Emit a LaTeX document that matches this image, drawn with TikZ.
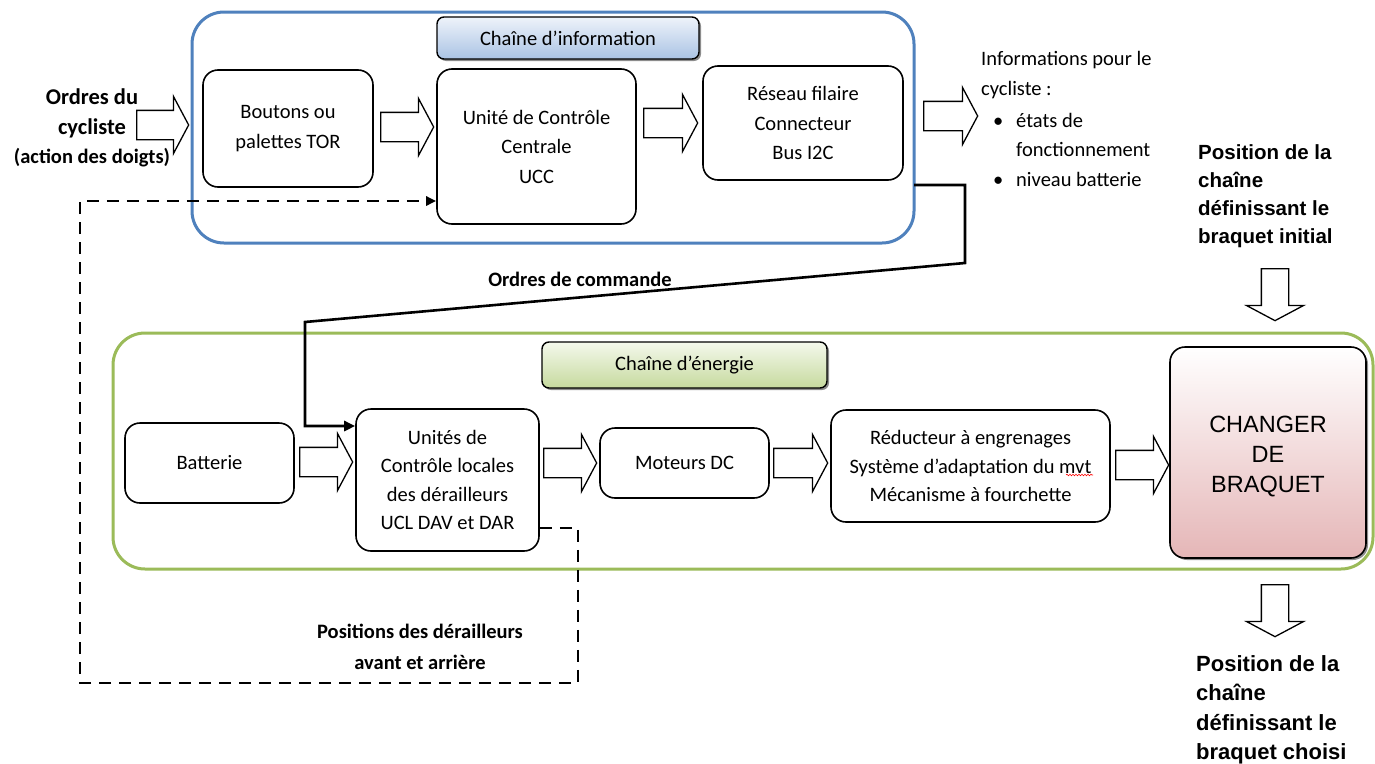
\documentclass[tikz,border=0pt]{standalone}
\usepackage{fontspec}
\setmainfont{Carlito}
\newfontfamily\arialf{Liberation Sans}
\usetikzlibrary{shapes.arrows,shadows,arrows.meta,decorations.pathmorphing}
\definecolor{bluechain}{RGB}{79,129,189}
\definecolor{greenchain}{RGB}{155,187,89}
\definecolor{titleblueA}{RGB}{238,243,250}
\definecolor{titleblueB}{RGB}{170,195,228}
\definecolor{titlegreenA}{RGB}{244,248,236}
\definecolor{titlegreenB}{RGB}{198,218,158}
\definecolor{pinkB}{RGB}{229,182,183}
\newcommand\fs{\fontsize{20.5}{29.5}\selectfont}
\newcommand\bul{\makebox[35pt][l]{\hspace*{12pt}\textbullet}}
\begin{document}
\begin{tikzpicture}[x=1pt,y=-1pt,
  box/.style={draw, line width=1.6pt, rounded corners=15pt, align=center, font=\fs, inner sep=0pt},
  chainbox/.style={draw=#1, line width=3pt, rounded corners=32pt, inner sep=0pt},
  titlebox/.style={draw, line width=1.4pt, rounded corners=7pt, align=center, font=\fs, inner sep=0pt,
    drop shadow={shadow xshift=2pt, shadow yshift=-2pt, fill=black, opacity=0.45}},
  harrow/.style={single arrow, draw, line width=1.3pt, fill=white, minimum width=56pt,
    inner xsep=0pt, inner ysep=14pt, single arrow head extend=14pt, single arrow tip angle=124, anchor=tail},
  varrow/.style={harrow, inner ysep=13pt, single arrow head extend=15pt, rotate=-90},
  cmdline/.style={line width=2.6pt, -{Triangle[length=11pt,width=10pt]}},
  fbline/.style={line width=2.8pt, dash pattern=on 12pt off 8pt, -{Triangle[length=10pt,width=9pt]}},
  lbl/.style={font=\bfseries\fs, align=center, inner sep=0pt},
  rlbl/.style={font=\arialf\bfseries, align=left, inner sep=0pt, anchor=north west}
]
\useasboundingbox (0,0) rectangle (1375,763);
\fill[white] (0,0) rectangle (1375,763);

% container boxes
\node[chainbox=bluechain, minimum width=722pt, minimum height=231pt] (infochain) at (553,127.5) {};
\node[chainbox=greenchain, minimum width=1260pt, minimum height=236pt] (energychain) at (743,451) {};

% titles
\node[titlebox, top color=titleblueA, bottom color=titleblueB, minimum width=262pt, minimum height=42pt] (tinfo) at (568,38) {Chaîne d’information};
\node[titlebox, top color=titlegreenA, bottom color=titlegreenB, minimum width=285pt, minimum height=46pt] (tener) at (684.5,365) {Chaîne d’énergie};

% information chain boxes
\node[box, minimum width=170pt, minimum height=117pt] (bout) at (288,128.5) {Boutons ou\\palettes TOR};
\node[box, minimum width=199pt, minimum height=155pt] (ucc) at (536.5,146.5) {Unité de Contrôle\\Centrale\\UCC};
\node[box, minimum width=200pt, minimum height=114pt] (res) at (803,123) {Réseau filaire\\Connecteur\\Bus I2C};

% energy chain boxes
\node[box, minimum width=169pt, minimum height=80pt] (bat) at (209.5,463) {Batterie};
\node[box, minimum width=183pt, minimum height=142pt, font=\fontsize{20.5}{28.5}\selectfont] (ucl) at (447.5,480) {Unités de\\Contrôle locales\\des dérailleurs\\UCL DAV et DAR};
\node[box, minimum width=169pt, minimum height=70pt] (mot) at (684.5,463) {Moteurs DC};
\node[box, minimum width=279pt, minimum height=112pt, font=\fontsize{20.5}{28.5}\selectfont] (red) at (970.5,466) {Réducteur à engrenages\\Système d’adaptation du mvt\\Mécanisme à fourchette};
\draw[red, line width=0.6pt, decorate, decoration={snake, segment length=3pt, amplitude=0.8pt}] (1066,475) -- (1093,475);
\node[box, minimum width=196pt, minimum height=211pt, top color=white, bottom color=pinkB,
  drop shadow={shadow xshift=2pt, shadow yshift=-2pt, fill=black, opacity=0.45}] (chg) at (1268,452.5) {};
\node[font=\arialf\fontsize{23.5}{30}\selectfont, align=center, inner sep=0pt] (chgtxt) at (1268,456.5) {CHANGER\\DE\\BRAQUET};

% block arrows
\node[harrow, minimum height=52pt] (a1) at (136,125) {};
\node[harrow, minimum height=53pt] (a2) at (380,127) {};
\node[harrow, minimum height=54pt] (a3) at (643,123) {};
\node[harrow, minimum height=54pt] (a4) at (923,116) {};
\node[harrow, minimum height=53pt] (a5) at (299,462) {};
\node[harrow, minimum height=53pt] (a6) at (543,463) {};
\node[harrow, minimum height=54pt] (a7) at (773,463) {};
\node[harrow, minimum height=53pt] (a8) at (1115,465) {};
\node[varrow, minimum height=52pt] (a9) at (1275,268) {};
\node[varrow, minimum height=52pt] (a10) at (1275,584) {};

% texts
\node[lbl, anchor=north] (ordres) at (92,89) {{\fontsize{22.5}{31}\selectfont Ordres du}\\{\fontsize{22.5}{31}\selectfont cycliste}\\{\fontsize{20.5}{31}\selectfont (action des doigts)}};
\node[font=\fontsize{20.5}{29.8}\selectfont, align=left, inner sep=0pt, anchor=north west] (infos) at (981,51)
  {Informations pour le\\cycliste :\\[2pt]\bul états de\\\hspace*{35pt}fonctionnement\\\bul niveau batterie};
\node[rlbl, font=\arialf\bfseries\fontsize{20.5}{28.3}\selectfont] (posinit) at (1198,144) {Position de la\\chaîne\\définissant le\\braquet initial};
\node[rlbl, font=\arialf\bfseries\fontsize{22}{29.5}\selectfont] (poschoix) at (1196,655) {Position de la\\chaîne\\définissant le\\braquet choisi};
\node[lbl] (cmdlbl) at (580,279) {Ordres de commande};
\node[lbl, anchor=north, font=\bfseries\fontsize{20.5}{30.5}\selectfont] (poslbl) at (420,624) {Positions des dérailleurs\\avant et arrière};

% command connector
\coordinate (cmdstart) at (914,185);
\coordinate (y426) at (0,426);
\draw[cmdline] (cmdstart) -- (965,185) -- (965,263) -- (305,322) -- (305,426) -- (ucl.west |- y426);

% feedback connector
\coordinate (y528) at (0,528);
\coordinate (y201) at (0,201);
\draw[fbline] (ucl.east |- y528) -- (578,528) -- (578,683) -- (80,683) -- (80,201) -- (ucc.west |- y201);
\end{tikzpicture}
\end{document}
